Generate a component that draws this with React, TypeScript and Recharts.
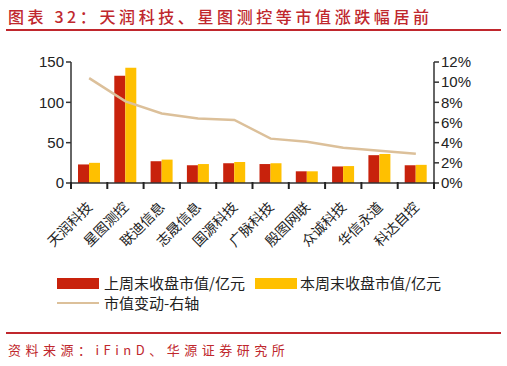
import { ComposedChart, Bar, Line, XAxis, YAxis } from "recharts"

const categories = ["天润科技", "星图测控", "联迪信息", "志晟信息", "国源科技", "广脉科技", "殷图网联", "众诚科技", "华信永道", "科达自控"]
const lastWeek = [23, 133, 27, 22, 24.5, 23.5, 14.5, 20.5, 34.5, 22]
const thisWeek = [25, 143, 29, 23.5, 26, 24.5, 14.5, 21, 36, 22.5]
const change = [10.4, 8.1, 6.9, 6.4, 6.25, 4.4, 4.1, 3.5, 3.2, 2.9]
const leftTicks = [0, 50, 100, 150]
const rightTicks = [0, 2, 4, 6, 8, 10, 12]

const RED = "#c8220c"
const YELLOW = "#ffc000"
const TAN = "#dcc09a"
const AXIS = "#333333"
const BRAND = "#c0272d"
const FONT = "'Liberation Sans', Arial, sans-serif"
const CJK = "'Noto Sans CJK SC', sans-serif"

const data = categories.map((name, i) => ({
  name,
  lastWeek: lastWeek[i],
  thisWeek: thisWeek[i],
  change: change[i],
}))

// category label rotated, plus tick marks on the band edges
function CategoryTick({ x, y, payload, index }: any) {
  const half = payload.offset || 0
  const top = y - 9
  return (
    <g>
      <line x1={x - half} x2={x - half} y1={top} y2={top + 7} stroke="#222" strokeWidth={2} />
      {index === categories.length - 1 && (
        <line x1={x + half} x2={x + half} y1={top} y2={top + 7} stroke="#222" strokeWidth={2} />
      )}
      <text
        x={x + 4}
        y={y + 17}
        textAnchor="end"
        transform={`rotate(-45, ${x + 4}, ${y + 17})`}
        fontSize={14}
        fontFamily={CJK}
        fill="#222"
      >
        {payload.value}
      </text>
    </g>
  )
}

export default function App() {
  return (
    <div style={{ position: "absolute", left: 0, top: 0, width: 507, height: 366, background: "#fff" }}>
      <div
        style={{
          position: "absolute",
          left: 8,
          top: 4,
          fontFamily: CJK,
          fontSize: 16,
          fontWeight: 500,
          color: BRAND,
          letterSpacing: 3.6,
          whiteSpace: "nowrap",
        }}
      >
        图表 32：天润科技、星图测控等市值涨跌幅居前
      </div>
      <div style={{ position: "absolute", left: 6, top: 29, width: 495, height: 2, background: BRAND }} />

      <div style={{ position: "absolute", left: 0, top: 0 }}>
        <ComposedChart
          width={507}
          height={262}
          data={data}
          margin={{ top: 62, right: 0, bottom: 0, left: 0 }}
          barGap={0}
          barSize={11}
        >
          <XAxis
            dataKey="name"
            xAxisId="cat"
            interval={0}
            tickLine={false}
            axisLine={{ stroke: AXIS, strokeWidth: 1.5 }}
            tick={<CategoryTick />}
            height={79}
          />
          <YAxis
            yAxisId="left"
            domain={[0, 150]}
            ticks={leftTicks}
            interval={0}
            width={71}
            axisLine={{ stroke: AXIS, strokeWidth: 1.5 }}
            tickLine={{ stroke: AXIS, strokeWidth: 1.5 }}
            tickSize={5}
            tick={{ fontSize: 15, fill: "#222", fontFamily: FONT }}
          />
          <YAxis
            yAxisId="right"
            orientation="right"
            domain={[0, 12]}
            ticks={rightTicks}
            interval={0}
            width={73}
            axisLine={{ stroke: AXIS, strokeWidth: 1.5 }}
            tickLine={{ stroke: AXIS, strokeWidth: 1.5 }}
            tickSize={5}
            tickFormatter={(v: number) => `${v}%`}
            tick={{ fontSize: 15, fill: "#222", fontFamily: FONT }}
          />
          <Bar dataKey="lastWeek" xAxisId="cat" yAxisId="left" fill={RED} isAnimationActive={false} />
          <Bar dataKey="thisWeek" xAxisId="cat" yAxisId="left" fill={YELLOW} isAnimationActive={false} />
          <Line
            dataKey="change"
            xAxisId="cat"
            yAxisId="right"
            type="linear"
            stroke={TAN}
            strokeWidth={2.5}
            dot={false}
            isAnimationActive={false}
          />
        </ComposedChart>
      </div>

      <div style={{ position: "absolute", left: 0, top: 274, fontFamily: CJK, fontSize: 15, color: "#222" }}>
        <div style={{ position: "absolute", left: 57, top: 4, width: 42, height: 11, background: RED }} />
        <div style={{ position: "absolute", left: 104, top: 0, whiteSpace: "nowrap", lineHeight: "18px" }}>上周末收盘市值/亿元</div>
        <div style={{ position: "absolute", left: 255, top: 4, width: 42, height: 11, background: YELLOW }} />
        <div style={{ position: "absolute", left: 300, top: 0, whiteSpace: "nowrap", lineHeight: "18px" }}>本周末收盘市值/亿元</div>
        <div style={{ position: "absolute", left: 57, top: 28, width: 42, height: 2, background: TAN }} />
        <div style={{ position: "absolute", left: 104, top: 20, whiteSpace: "nowrap", lineHeight: "18px" }}>市值变动-右轴</div>
      </div>

      <div style={{ position: "absolute", left: 6, top: 332, width: 495, height: 2, background: BRAND }} />
      <div
        style={{
          position: "absolute",
          left: 8,
          top: 340,
          fontFamily: CJK,
          fontSize: 13,
          color: BRAND,
          letterSpacing: 4.5,
          whiteSpace: "nowrap",
        }}
      >
        资料来源：iFinD、华源证券研究所
      </div>
    </div>
  )
}
